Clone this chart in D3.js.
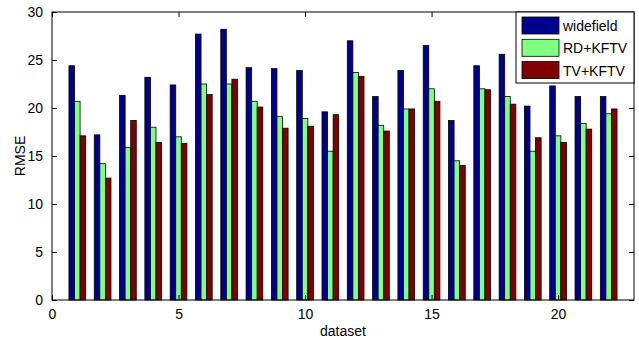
<!DOCTYPE html>
<html lang="en">
<head>
    <meta charset="UTF-8">
    <title>RMSE per dataset</title>
    <script src="https://d3js.org/d3.v7.min.js"></script>
    <style>
        body {
            margin: 0;
            padding: 0;
            overflow: hidden;
            background-color: #fff;
        }
        text {
            font-family: "Liberation Sans", Arial, sans-serif;
            font-size: 14px;
            fill: #000;
        }
    </style>
</head>
<body>
    <div id="chart"></div>
    <script>
        // data
        const datasets = d3.range(1, 23);
        const seriesNames = ["widefield", "RD+KFTV", "TV+KFTV"];
        const seriesColors = ["#00008f", "#80ff80", "#800000"];
        const widefield = [24.4, 17.2, 21.3, 23.2, 22.4, 27.7, 28.2, 24.2, 24.1, 23.9, 19.6,
                           27.0, 21.2, 23.9, 26.5, 18.7, 24.4, 25.6, 20.2, 22.3, 21.2, 21.2];
        const rdKftv = [20.7, 14.2, 15.9, 18.0, 17.0, 22.5, 22.5, 20.7, 19.1, 18.9, 15.5,
                        23.7, 18.2, 19.9, 22.0, 14.5, 22.0, 21.2, 15.5, 17.1, 18.4, 19.4];
        const tvKftv = [17.1, 12.7, 18.7, 16.4, 16.3, 21.4, 23.0, 20.1, 17.9, 18.1, 19.3,
                        23.3, 17.6, 19.9, 20.7, 14.0, 21.9, 20.4, 16.9, 16.4, 17.8, 19.9];
        const xTicks = [0, 5, 10, 15, 20];
        const yTicks = [0, 5, 10, 15, 20, 25, 30];

        const series = [widefield, rdKftv, tvKftv];

        const width = 639, height = 341;
        const margin = {top: 12, right: 5, bottom: 41, left: 52};
        const innerW = width - margin.left - margin.right;
        const innerH = height - margin.top - margin.bottom;

        const svg = d3.select("#chart")
            .append("svg")
            .attr("width", width)
            .attr("height", height);

        const g = svg.append("g")
            .attr("transform", `translate(${margin.left},${margin.top})`);

        const x = d3.scaleLinear().domain([0, 23]).range([0, innerW]);
        const y = d3.scaleLinear().domain([0, 30]).range([innerH, 0]);

        // bar offsets within each group
        const barW = 0.22;
        const offsets = [-barW, 0, barW];

        series.forEach((vals, s) => {
            g.selectAll(".bar" + s)
                .data(datasets)
                .enter().append("rect")
                .attr("x", d => x(d + offsets[s] - barW / 2))
                .attr("y", (d, i) => y(vals[i]))
                .attr("width", x(barW) - x(0))
                .attr("height", (d, i) => y(0) - y(vals[i]))
                .attr("fill", seriesColors[s])
                .attr("stroke", "#000")
                .attr("stroke-width", 0.8);
        });

        // axes, ticks pointing inward like matlab
        const tickLen = 5;
        g.append("g")
            .attr("transform", `translate(0,${innerH})`)
            .call(d3.axisBottom(x).tickValues(xTicks).tickSizeInner(-tickLen).tickSizeOuter(0).tickPadding(9))
            .call(a => a.select(".domain").remove());
        g.append("g")
            .call(d3.axisTop(x).tickValues(xTicks).tickSizeInner(-tickLen).tickSizeOuter(0).tickFormat(""))
            .call(a => a.select(".domain").remove());
        g.append("g")
            .call(d3.axisLeft(y).tickValues(yTicks).tickSizeInner(-tickLen).tickSizeOuter(0).tickPadding(9))
            .call(a => a.select(".domain").remove());
        g.append("g")
            .attr("transform", `translate(${innerW},0)`)
            .call(d3.axisRight(y).tickValues(yTicks).tickSizeInner(-tickLen).tickSizeOuter(0).tickFormat(""))
            .call(a => a.select(".domain").remove());

        g.selectAll(".tick text")
            .style("font-size", "14px")
            .style("font-family", "'Liberation Sans', Arial, sans-serif");

        g.append("rect")
            .attr("width", innerW)
            .attr("height", innerH)
            .attr("fill", "none")
            .attr("stroke", "#000")
            .attr("stroke-width", 1);

        // axis labels
        svg.append("text")
            .attr("x", margin.left + innerW / 2)
            .attr("y", height - 5)
            .attr("text-anchor", "middle")
            .text("dataset");
        svg.append("text")
            .attr("transform", `translate(25,${margin.top + innerH / 2}) rotate(-90)`)
            .attr("text-anchor", "middle")
            .text("RMSE");

        // legend
        const legW = 118, legH = 71;
        const legend = g.append("g")
            .attr("transform", `translate(${innerW - legW},0)`);
        legend.append("rect")
            .attr("width", legW)
            .attr("height", legH)
            .attr("fill", "#fff")
            .attr("stroke", "#000");
        seriesNames.forEach((name, i) => {
            legend.append("rect")
                .attr("x", 6)
                .attr("y", 5 + i * 22.3)
                .attr("width", 37)
                .attr("height", 17)
                .attr("fill", seriesColors[i])
                .attr("stroke", "#000")
                .attr("stroke-width", 0.8);
            legend.append("text")
                .attr("x", 47)
                .attr("y", 19 + i * 22.3)
                .text(name);
        });
    </script>
</body>
</html>
